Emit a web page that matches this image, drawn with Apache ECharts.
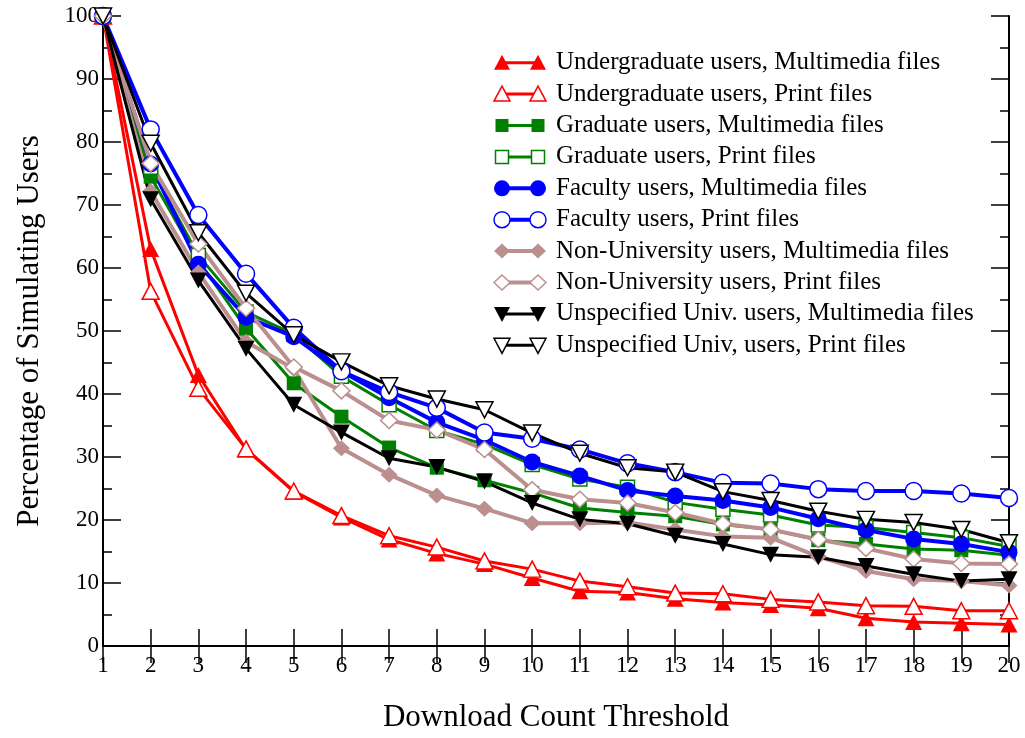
<!DOCTYPE html>
<html>
<head>
<meta charset="utf-8">
<title>Download Count Threshold</title>
<script src="https://cdn.jsdelivr.net/npm/echarts@6/dist/echarts.min.js"></script>
<style>
  html, body { margin: 0; padding: 0; background: #fff; }
  #chart { width: 1025px; height: 738px; }
</style>
</head>
<body>
<div id="chart"></div>
<script>
// x: download count threshold
const thresholds = [1, 2, 3, 4, 5, 6, 7, 8, 9, 10, 11, 12, 13, 14, 15, 16, 17, 18, 19, 20]

// percentage of simulating users
const ugMultimedia = [100, 63, 43, 31.2, 24.5, 20.4, 16.9, 14.7, 13.0, 10.8, 8.7, 8.5, 7.5, 6.9, 6.5, 6.0, 4.4, 3.8, 3.6, 3.4]
const ugPrint = [100, 56.3, 40.9, 31.3, 24.6, 20.7, 17.5, 15.7, 13.5, 12.2, 10.3, 9.4, 8.4, 8.3, 7.4, 7.0, 6.4, 6.3, 5.6, 5.6]
const gradMultimedia = [100, 74.5, 61.2, 50.4, 41.7, 36.4, 31.5, 28.3, 26.3, 24.3, 21.9, 21.2, 20.6, 19.3, 18.5, 16.8, 16.2, 15.4, 15.2, 14.4]
const gradPrint = [100, 76, 62, 53, 49.5, 42.8, 38.3, 34.2, 32.0, 28.8, 26.5, 25.2, 22.8, 21.7, 20.8, 19.2, 18.8, 18.0, 17.2, 15.8]
const facMultimedia = [100, 76.5, 60.6, 52.2, 49.1, 43.6, 39.4, 35.5, 32.7, 29.2, 27.0, 24.7, 23.8, 23.1, 22.0, 20.2, 18.4, 17.0, 16.2, 14.9]
const facPrint = [100, 82.0, 68.4, 59.1, 50.5, 43.6, 40.3, 37.8, 33.9, 32.9, 31.2, 29.0, 27.6, 25.9, 25.8, 24.9, 24.6, 24.6, 24.2, 23.5]
const nonMultimedia = [100, 72.2, 59.3, 48.3, 44.0, 31.4, 27.2, 23.9, 21.8, 19.5, 19.5, 19.6, 18.5, 17.4, 17.2, 14.2, 11.9, 10.6, 10.3, 9.6]
const nonPrint = [100, 76.6, 63.8, 53.6, 44.3, 40.5, 35.8, 34.3, 31.2, 24.8, 23.3, 22.7, 21.2, 19.4, 18.5, 16.9, 15.5, 13.8, 13.1, 13.0]
const unsMultimedia = [100, 70.9, 58.0, 47.2, 38.3, 33.9, 29.8, 28.4, 26.1, 22.7, 20.1, 19.4, 17.5, 16.2, 14.5, 14.1, 12.7, 11.4, 10.3, 10.6]
const unsPrint = [100, 79.8, 65.6, 56.0, 49.4, 45.1, 41.3, 39.2, 37.5, 33.8, 30.6, 28.3, 27.6, 24.5, 23.1, 21.4, 20.1, 19.6, 18.5, 16.4]

const seriesNames = [
  'Undergraduate users, Multimedia files',
  'Undergraduate users, Print files',
  'Graduate users, Multimedia files',
  'Graduate users, Print files',
  'Faculty users, Multimedia files',
  'Faculty users, Print files',
  'Non-University users, Multimedia files',
  'Non-University users, Print files',
  'Unspecified Univ. users, Multimedia files',
  'Unspecified Univ, users, Print files'
]
const seriesValues = [ugMultimedia, ugPrint, gradMultimedia, gradPrint, facMultimedia, facPrint,
  nonMultimedia, nonPrint, unsMultimedia, unsPrint]

// style per series: colour, marker, filled or open, line width
const styles = [
  { color: '#ff0000', marker: 'triangle', filled: true, width: 3 },
  { color: '#ff0000', marker: 'triangle', filled: false, width: 3 },
  { color: '#008000', marker: 'rect', filled: true, width: 3 },
  { color: '#008000', marker: 'rect', filled: false, width: 3 },
  { color: '#0000ff', marker: 'circle', filled: true, width: 4 },
  { color: '#0000ff', marker: 'circle', filled: false, width: 4 },
  { color: '#bc8f8f', marker: 'diamond', filled: true, width: 4 },
  { color: '#bc8f8f', marker: 'diamond', filled: false, width: 4 },
  { color: '#000000', marker: 'down', filled: true, width: 3 },
  { color: '#000000', marker: 'down', filled: false, width: 3 }
]

const FONT = 'Liberation Serif'

function symbolOf(s) {
  if (s.marker === 'down') return { symbol: 'triangle', symbolRotate: 180, symbolSize: [17, 16] }
  if (s.marker === 'triangle') return { symbol: 'triangle', symbolRotate: 0, symbolSize: [17, 16] }
  if (s.marker === 'rect') return { symbol: 'rect', symbolRotate: 0, symbolSize: 14 }
  if (s.marker === 'circle') return { symbol: 'circle', symbolRotate: 0, symbolSize: 17 }
  return { symbol: 'diamond', symbolRotate: 0, symbolSize: [17, 16] }
}

const series = seriesNames.map((name, i) => {
  const s = styles[i]
  const sym = symbolOf(s)
  return {
    name: name,
    type: 'line',
    data: thresholds.map((t, k) => [t, seriesValues[i][k]]),
    symbol: sym.symbol,
    symbolRotate: sym.symbolRotate,
    symbolSize: sym.symbolSize,
    showAllSymbol: true,
    lineStyle: { color: s.color, width: s.width },
    itemStyle: s.filled
      ? { color: s.color, borderColor: s.color, borderWidth: 0 }
      : { color: '#ffffff', borderColor: s.color, borderWidth: 1.5 },
    emphasis: { disabled: true }
  }
})

// legend drawn as graphic: symbol - line - symbol, then text
function legendMarker(s, cx, cy) {
  const fill = s.filled ? s.color : '#ffffff'
  const style = { fill: fill, stroke: s.color, lineWidth: s.filled ? 0 : 1.5 }
  if (s.marker === 'circle') return { type: 'circle', shape: { cx: cx, cy: cy, r: 8 }, style: style }
  if (s.marker === 'rect') return { type: 'rect', shape: { x: cx - 6.5, y: cy - 6.5, width: 13, height: 13 }, style: style }
  if (s.marker === 'diamond') return { type: 'polygon', shape: { points: [[cx, cy - 7.5], [cx + 8, cy], [cx, cy + 7.5], [cx - 8, cy]] }, style: style }
  if (s.marker === 'down') return { type: 'polygon', shape: { points: [[cx - 8, cy - 7], [cx + 8, cy - 7], [cx, cy + 8]] }, style: style }
  return { type: 'polygon', shape: { points: [[cx - 8, cy + 7], [cx + 8, cy + 7], [cx, cy - 8]] }, style: style }
}

const legendGraphics = []
seriesNames.forEach((name, i) => {
  const s = styles[i]
  const y = 62.7 + i * 31.4
  legendGraphics.push({
    type: 'line', shape: { x1: 502, y1: y, x2: 538, y2: y },
    style: { stroke: s.color, lineWidth: s.width }, z: 100
  })
  const a = legendMarker(s, 502, y)
  const b = legendMarker(s, 538, y)
  a.z = 101
  b.z = 101
  legendGraphics.push(a, b)
  legendGraphics.push({
    type: 'text', x: 556, y: y, z: 101,
    style: { text: name, font: '25px "' + FONT + '"', fill: '#000', verticalAlign: 'middle', align: 'left' }
  })
})

const chart = echarts.init(document.getElementById('chart'))
chart.setOption({
  animation: false,
  backgroundColor: '#ffffff',
  textStyle: { fontFamily: FONT },
  grid: { left: 103, right: 16, top: 16, bottom: 89 },
  xAxis: [{
    type: 'value',
    min: 1,
    max: 20,
    interval: 1,
    name: 'Download Count Threshold',
    nameLocation: 'middle',
    nameGap: 56,
    nameTextStyle: { fontFamily: FONT, fontSize: 31, color: '#000' },
    axisLine: { lineStyle: { color: '#000', width: 2 } },
    axisTick: { inside: true, length: 17, lineStyle: { color: '#000', width: 1.5 } },
    axisLabel: { fontFamily: FONT, fontSize: 23, color: '#000', margin: 8 },
    splitLine: { show: false }
  }, {
    type: 'value',
    position: 'top',
    min: 1,
    max: 20,
    interval: 1,
    axisLine: { lineStyle: { color: '#000', width: 2 } },
    axisTick: { inside: true, length: 17, lineStyle: { color: '#000', width: 1.5 } },
    axisLabel: { show: false },
    splitLine: { show: false }
  }],
  yAxis: [{
    type: 'value',
    min: 0,
    max: 100,
    interval: 10,
    name: 'Percentage of Simulating Users',
    nameLocation: 'middle',
    nameGap: 58,
    nameTextStyle: { fontFamily: FONT, fontSize: 31, color: '#000' },
    axisLine: { show: true, lineStyle: { color: '#000', width: 2 } },
    axisTick: { show: true, inside: true, length: 18, lineStyle: { color: '#000', width: 1.5 } },
    minorTick: { show: true, splitNumber: 2, length: 9, lineStyle: { color: '#000', width: 1.5 } },
    axisLabel: { fontFamily: FONT, fontSize: 23, color: '#000', margin: 4 },
    splitLine: { show: false }
  }, {
    type: 'value',
    position: 'right',
    min: 0,
    max: 100,
    interval: 10,
    axisLine: { show: true, lineStyle: { color: '#000', width: 2 } },
    axisTick: { show: true, inside: true, length: 18, lineStyle: { color: '#000', width: 1.5 } },
    minorTick: { show: true, splitNumber: 2, length: 9, lineStyle: { color: '#000', width: 1.5 } },
    axisLabel: { show: false },
    splitLine: { show: false }
  }],
  series: series,
  graphic: legendGraphics
})
</script>
</body>
</html>
